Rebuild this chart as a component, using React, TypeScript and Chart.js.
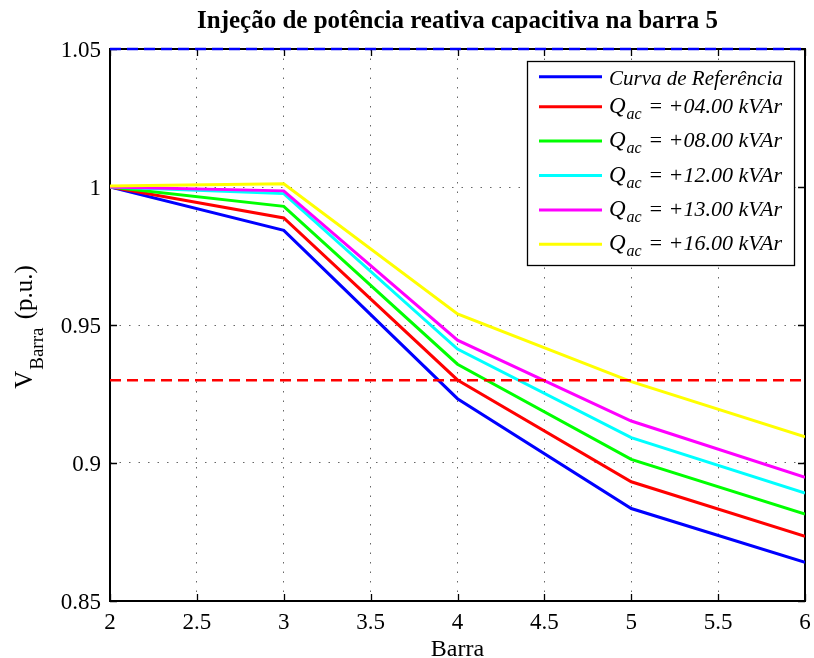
import React, { useEffect, useRef } from 'react';
import { Chart, registerables } from 'chart.js';

Chart.register(...registerables);

// ---------- data ----------
const barras = [2, 3, 4, 5, 6];
const vReferencia = [1.0, 0.9843, 0.9233, 0.8835, 0.864];
const vQ04 = [1.0, 0.9888, 0.9301, 0.8932, 0.8734];
const vQ08 = [1.0, 0.993, 0.9358, 0.9013, 0.8815];
const vQ12 = [1.0, 0.9976, 0.9413, 0.9092, 0.8891];
const vQ13 = [1.0, 0.9986, 0.9445, 0.9152, 0.8948];
const vQ16 = [1.0004, 1.0012, 0.954, 0.9295, 0.9095];
const limiteInferior = 0.93;
const limiteSuperior = 1.05;

const seriesLabels = [
  'Curva de Referência',
  'Q_{ac} = +04.00 kVAr',
  'Q_{ac} = +08.00 kVAr',
  'Q_{ac} = +12.00 kVAr',
  'Q_{ac} = +13.00 kVAr',
  'Q_{ac} = +16.00 kVAr',
];
const seriesColors = ['#0000ff', '#ff0000', '#00ff00', '#00ffff', '#ff00ff', '#ffff00'];
const seriesValues = [vReferencia, vQ04, vQ08, vQ12, vQ13, vQ16];

const titleText = 'Injeção de potência reativa capacitiva na barra 5';
const xLabelText = 'Barra';
const yLabelText = 'V_{Barra} (p.u.)';

const FONT = "'Liberation Serif', 'Times New Roman', Times, serif";

function parseSub(text: string) {
  const m = text.match(/^(.*?)_\{(.*?)\}(.*)$/);
  if (!m) return { main: text, sub: '', rest: '' };
  return { main: m[1], sub: m[2], rest: m[3] };
}

const matlabPlugin = {
  id: 'matlabStyle',
  beforeDatasetsDraw(chart: any) {
    const { ctx, chartArea } = chart;
    const { left, right, top, bottom } = chartArea;
    const xs = chart.scales.x;
    const ys = chart.scales.y;
    ctx.save();
    ctx.strokeStyle = '#000';
    ctx.lineWidth = 1.3;
    ctx.setLineDash([]);
    ctx.beginPath();
    xs.ticks.forEach((t: any) => {
      const px = Math.round(xs.getPixelForValue(t.value)) + 0.5;
      ctx.moveTo(px, bottom);
      ctx.lineTo(px, bottom - 7);
      ctx.moveTo(px, top);
      ctx.lineTo(px, top + 7);
    });
    ys.ticks.forEach((t: any) => {
      const py = Math.round(ys.getPixelForValue(t.value)) + 0.5;
      ctx.moveTo(left, py);
      ctx.lineTo(left + 7, py);
      ctx.moveTo(right, py);
      ctx.lineTo(right - 7, py);
    });
    ctx.stroke();
    ctx.lineWidth = 2;
    ctx.strokeRect(left, top, right - left, bottom - top);
    ctx.restore();
  },
  afterDatasetsDraw(chart: any) {
    const { ctx, chartArea } = chart;
    const { right, top } = chartArea;
    // legend box
    const boxRight = right - 11;
    const boxLeft = boxRight - 267;
    const boxTop = top + 12;
    const boxBottom = boxTop + 204;
    ctx.save();
    ctx.fillStyle = '#fff';
    ctx.fillRect(boxLeft, boxTop, boxRight - boxLeft, boxBottom - boxTop);
    ctx.strokeStyle = '#000';
    ctx.lineWidth = 1.3;
    ctx.setLineDash([]);
    ctx.strokeRect(boxLeft + 0.5, boxTop + 0.5, boxRight - boxLeft, boxBottom - boxTop);

    seriesLabels.forEach((label, i) => {
      const ly = i === 0 ? boxTop + 15.7 : boxTop + 45.7 + 34.4 * (i - 1);
      ctx.strokeStyle = seriesColors[i];
      ctx.lineWidth = 3;
      ctx.beginPath();
      ctx.moveTo(boxLeft + 12, ly);
      ctx.lineTo(boxLeft + 75, ly);
      ctx.stroke();
      const p = parseSub(label);
      ctx.fillStyle = '#000';
      ctx.textAlign = 'left';
      ctx.textBaseline = 'alphabetic';
      let tx = boxLeft + 82;
      if (!p.sub) {
        ctx.font = `italic 21px ${FONT}`;
        ctx.fillText(p.main, tx, ly + 8);
      } else {
        const base = ly + 6;
        ctx.font = `italic 23px ${FONT}`;
        ctx.fillText(p.main, tx, base);
        tx += ctx.measureText(p.main).width + 1;
        ctx.font = `italic 16px ${FONT}`;
        ctx.fillText(p.sub, tx, base + 6);
        tx += ctx.measureText(p.sub).width + 1;
        ctx.font = `italic 22px ${FONT}`;
        ctx.fillText(p.rest, tx, base);
      }
    });
    ctx.restore();
  },
  afterDraw(chart: any) {
    const { ctx, chartArea } = chart;
    const { left, right } = chartArea;
    const cx = (left + right) / 2;
    ctx.save();
    ctx.fillStyle = '#000';
    // title
    ctx.font = `bold 25px ${FONT}`;
    ctx.textAlign = 'center';
    ctx.textBaseline = 'alphabetic';
    ctx.fillText(titleText, cx, 28);
    // x label
    ctx.font = `24px ${FONT}`;
    ctx.fillText(xLabelText, cx, 656);
    // y label (rotated, with subscript)
    const p = parseSub(yLabelText);
    ctx.font = `25px ${FONT}`;
    const wMain = ctx.measureText(p.main).width;
    ctx.font = `19px ${FONT}`;
    const wSub = ctx.measureText(p.sub).width;
    ctx.font = `25px ${FONT}`;
    const wRest = ctx.measureText(p.rest).width;
    const total = wMain + 1 + wSub + 2 + wRest;
    const cy = 327;
    ctx.translate(32, cy + total / 2);
    ctx.rotate(-Math.PI / 2);
    ctx.textAlign = 'left';
    let tx = 0;
    ctx.font = `25px ${FONT}`;
    ctx.fillText(p.main, tx, 0);
    tx += wMain + 1;
    ctx.font = `19px ${FONT}`;
    ctx.fillText(p.sub, tx, 11);
    tx += wSub + 2;
    ctx.font = `25px ${FONT}`;
    ctx.fillText(p.rest, tx, 0);
    ctx.restore();
  },
};

const fmt = (v: number) => String(Number(Number(v).toFixed(2)));

export default function App() {
  const canvasRef = useRef<HTMLCanvasElement | null>(null);

  useEffect(() => {
    if (!canvasRef.current) return;
    const datasets: any[] = seriesValues.map((vals, i) => ({
      label: seriesLabels[i],
      data: barras.map((b, j) => ({ x: b, y: vals[j] })),
      borderColor: seriesColors[i],
      backgroundColor: seriesColors[i],
      borderWidth: 3,
      pointRadius: 0,
      tension: 0,
      fill: false,
      order: seriesValues.length - i,
    }));
    datasets.push({
      label: 'limite inferior',
      data: [
        { x: barras[0], y: limiteInferior },
        { x: barras[barras.length - 1], y: limiteInferior },
      ],
      borderColor: '#ff0000',
      borderWidth: 2.5,
      borderDash: [11, 6],
      pointRadius: 0,
      fill: false,
      order: -1,
    });
    datasets.push({
      label: 'limite superior',
      data: [
        { x: barras[0], y: limiteSuperior },
        { x: barras[barras.length - 1], y: limiteSuperior },
      ],
      borderColor: '#0000ff',
      borderWidth: 2.5,
      borderDash: [11, 6],
      pointRadius: 0,
      fill: false,
      clip: false,
      order: -2,
    });

    const chart = new Chart(canvasRef.current, {
      type: 'line',
      data: { datasets },
      options: {
        animation: false,
        responsive: false,
        devicePixelRatio: 1,
        layout: { padding: { top: 49, right: 9, left: 0, bottom: 0 } },
        plugins: {
          legend: { display: false },
          title: { display: false },
          tooltip: { enabled: false },
        },
        scales: {
          x: {
            type: 'linear',
            min: 2,
            max: 6,
            afterFit: (s: any) => {
              s.height = 57;
              s.paddingLeft = 0;
              s.paddingRight = 0;
            },
            ticks: {
              stepSize: 0.5,
              color: '#000',
              padding: 8,
              font: { family: FONT, size: 23 },
              callback: (v: any) => fmt(v),
              maxRotation: 0,
              autoSkip: false,
            },
            grid: { color: '#666', lineWidth: 1, drawTicks: false },
            border: { display: false, dash: [1.5, 8] },
          },
          y: {
            type: 'linear',
            min: 0.85,
            max: 1.05,
            afterFit: (s: any) => {
              s.width = 110;
              s.paddingTop = 0;
              s.paddingBottom = 0;
            },
            ticks: {
              stepSize: 0.05,
              color: '#000',
              padding: 9,
              labelOffset: 2,
              font: { family: FONT, size: 23 },
              callback: (v: any) => fmt(v),
              autoSkip: false,
            },
            grid: { color: '#666', lineWidth: 1, drawTicks: false },
            border: { display: false, dash: [1.5, 8] },
          },
        },
      },
      plugins: [matlabPlugin],
    } as any);
    return () => chart.destroy();
  }, []);

  return (
    <div style={{ position: 'absolute', left: 0, top: 0, width: 814, height: 658, background: '#fff' }}>
      <canvas ref={canvasRef} width={814} height={658} />
    </div>
  );
}
